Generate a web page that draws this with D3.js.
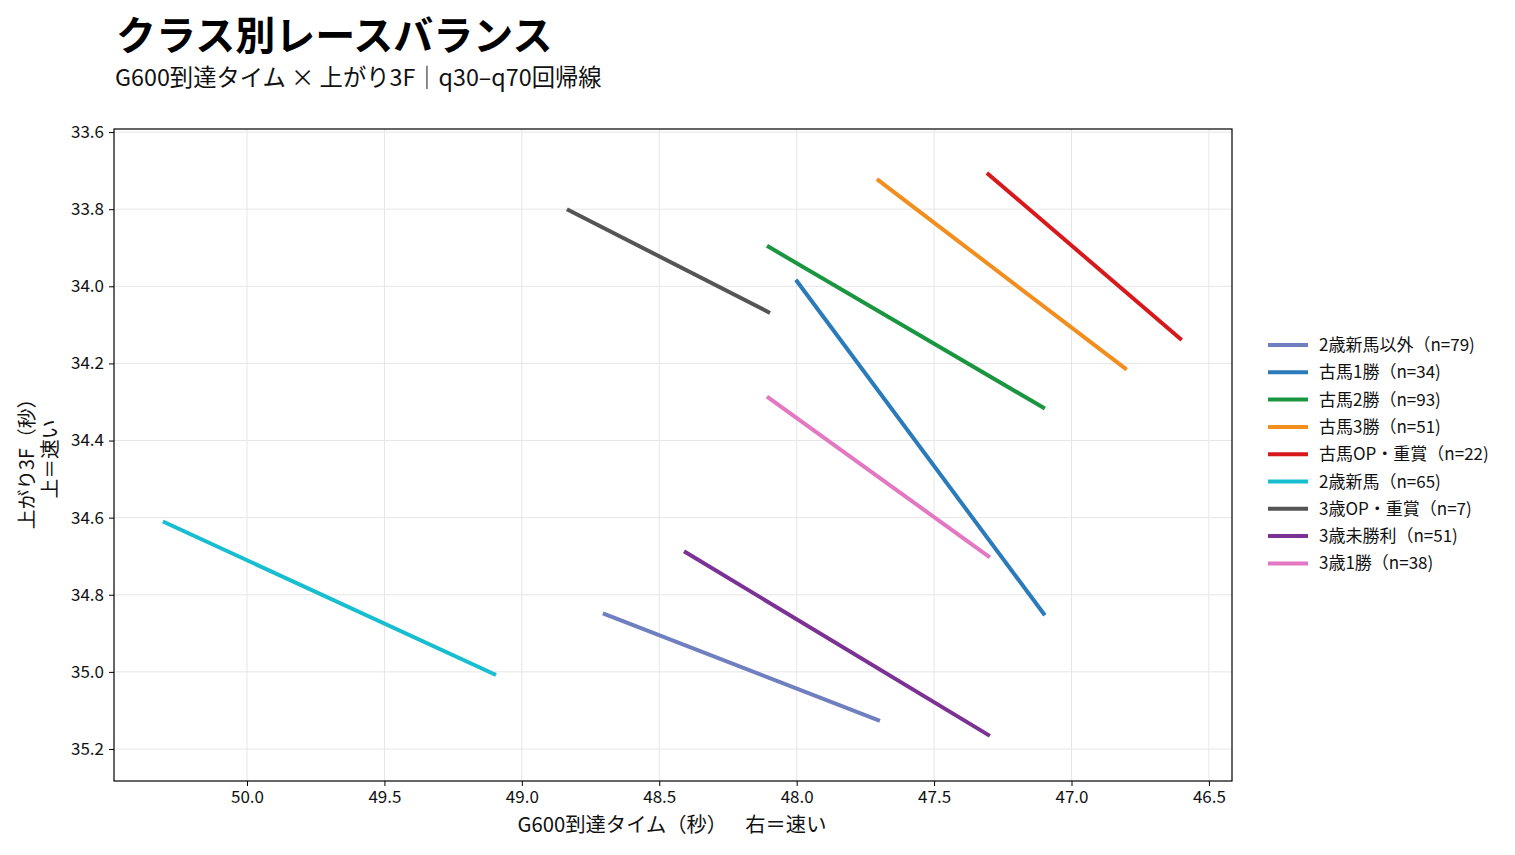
<!DOCTYPE html>
<html>
<head>
    <meta charset="utf-8">
    <script src="https://cdn.jsdelivr.net/npm/d3@7"></script>
    <style>
        html, body {
            padding: 0;
            margin: 0;
            background: #fff;
        }
        text {
            font-family: "Noto Sans CJK JP", "Noto Sans", sans-serif;
        }
    </style>
</head>
<body>
<script>
    var width = 1515, height = 855;

    // regression line per class: [G600 start, G600 end], [3F start, 3F end]
    var classes = ["2歳新馬以外", "古馬1勝", "古馬2勝", "古馬3勝", "古馬OP・重賞", "2歳新馬", "3歳OP・重賞", "3歳未勝利", "3歳1勝"];
    var counts = [79, 34, 93, 51, 22, 65, 7, 51, 38];
    var colors = ["#6f7fbf", "#2b7bba", "#1a9641", "#f28e1e", "#d7191c", "#17becf", "#555555", "#7b3294", "#e377c2"];
    var g600 = [[48.705, 47.697], [48.003, 47.097], [48.108, 47.097], [47.708, 46.799], [47.308, 46.599],
                [50.306, 49.094], [48.836, 48.097], [48.410, 47.297], [48.108, 47.297]];
    var last3f = [[34.848, 35.127], [33.983, 34.853], [33.895, 34.317], [33.722, 34.216], [33.706, 34.139],
                  [34.610, 35.008], [33.800, 34.069], [34.687, 35.166], [34.286, 34.703]];
    var xTicks = [50.0, 49.5, 49.0, 48.5, 48.0, 47.5, 47.0, 46.5];
    var yTicks = [33.6, 33.8, 34.0, 34.2, 34.4, 34.6, 34.8, 35.0, 35.2];

    var plot = {left: 114, top: 129, right: 1232, bottom: 781};

    var svg = d3.select("body").append("svg")
        .attr("width", width)
        .attr("height", height);

    // x reversed: right = faster
    var x = d3.scaleLinear().domain([50.484, 46.416]).range([plot.left, plot.right]);
    // y reversed: up = faster
    var y = d3.scaleLinear().domain([33.592, 35.283]).range([plot.top, plot.bottom]);

    // grid
    svg.append("g").selectAll("line").data(xTicks).enter().append("line")
        .attr("x1", function (d) { return x(d); })
        .attr("x2", function (d) { return x(d); })
        .attr("y1", plot.top).attr("y2", plot.bottom)
        .attr("stroke", "#e6e6e6").attr("stroke-width", 1);
    svg.append("g").selectAll("line").data(yTicks).enter().append("line")
        .attr("y1", function (d) { return y(d); })
        .attr("y2", function (d) { return y(d); })
        .attr("x1", plot.left).attr("x2", plot.right)
        .attr("stroke", "#e6e6e6").attr("stroke-width", 1);

    // regression lines
    svg.append("g").selectAll("line").data(classes).enter().append("line")
        .attr("x1", function (d, i) { return x(g600[i][0]); })
        .attr("x2", function (d, i) { return x(g600[i][1]); })
        .attr("y1", function (d, i) { return y(last3f[i][0]); })
        .attr("y2", function (d, i) { return y(last3f[i][1]); })
        .attr("stroke", function (d, i) { return colors[i]; })
        .attr("stroke-width", 4);

    // frame
    svg.append("rect")
        .attr("x", plot.left).attr("y", plot.top)
        .attr("width", plot.right - plot.left).attr("height", plot.bottom - plot.top)
        .attr("fill", "none").attr("stroke", "#000").attr("stroke-width", 1.2);

    // axes
    var xAxis = svg.append("g")
        .attr("transform", "translate(0," + plot.bottom + ")")
        .call(d3.axisBottom(x).tickValues(xTicks).tickFormat(d3.format(".1f")).tickSizeOuter(0).tickSize(5).tickPadding(5));
    var yAxis = svg.append("g")
        .attr("transform", "translate(" + plot.left + ",0)")
        .call(d3.axisLeft(y).tickValues(yTicks).tickFormat(d3.format(".1f")).tickSizeOuter(0).tickSize(5).tickPadding(5));
    [xAxis, yAxis].forEach(function (a) {
        a.select(".domain").remove();
        a.selectAll("text").attr("font-size", 17).attr("fill", "#111")
            .style("font-family", "'Noto Sans CJK JP', sans-serif");
        a.selectAll("line").attr("stroke", "#000");
    });

    // titles
    svg.append("text").attr("x", 116).attr("y", 50)
        .attr("font-size", 40).attr("font-weight", "bold").attr("fill", "#000")
        .text("クラス別レースバランス");
    svg.append("text").attr("x", 115).attr("y", 86)
        .attr("font-size", 23.3).attr("fill", "#111")
        .text("G600到達タイム × 上がり3F｜q30–q70回帰線");

    // axis labels
    svg.append("text").attr("x", (plot.left + plot.right) / 2 - 1).attr("y", 832)
        .attr("text-anchor", "middle").attr("font-size", 20.3).attr("fill", "#111")
        .attr("xml:space", "preserve")
        .text("G600到達タイム（秒）    右＝速い");
    var yl = svg.append("text")
        .attr("transform", "translate(34," + ((plot.top + plot.bottom) / 2 + 4) + ") rotate(-90)")
        .attr("text-anchor", "middle").attr("font-size", 19.8).attr("fill", "#111");
    yl.append("tspan").attr("x", 0).attr("dy", 0).text("上がり3F（秒）");
    yl.append("tspan").attr("x", 0).attr("dy", 23).text("上＝速い");

    // legend
    var legend = svg.append("g").attr("transform", "translate(1268,345)");
    var item = legend.selectAll("g").data(classes).enter().append("g")
        .attr("transform", function (d, i) { return "translate(0," + (i * 27.3) + ")"; });
    item.append("line")
        .attr("x1", 0).attr("x2", 40).attr("y1", 0).attr("y2", 0)
        .attr("stroke", function (d, i) { return colors[i]; })
        .attr("stroke-width", 4);
    item.append("text")
        .attr("x", 51).attr("y", 6)
        .attr("font-size", 17).attr("fill", "#111")
        .text(function (d, i) { return d + "（n=" + counts[i] + ")"; });
</script>
</body>
</html>
